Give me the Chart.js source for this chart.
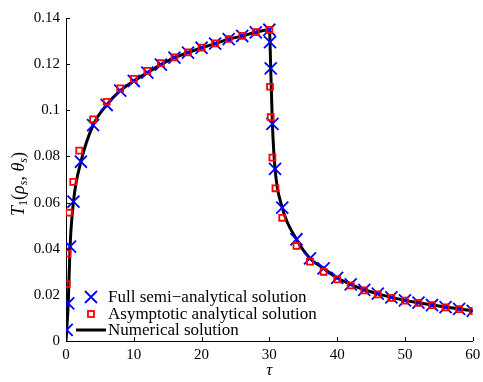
<!DOCTYPE html>
<html>
<head>
<meta charset="utf-8">
<script src="https://cdn.jsdelivr.net/npm/chart.js@4.4.1/dist/chart.umd.min.js"></script>
<style>
html,body{margin:0;padding:0;background:#fff;}
canvas{display:block;}
</style>
</head>
<body>
<canvas id="c" width="483" height="382"></canvas>
<script>
// ---- Data ----
const xTicks = [0, 10, 20, 30, 40, 50, 60];
const yTicks = [0, 0.02, 0.04, 0.06, 0.08, 0.1, 0.12, 0.14];
const yTickLabels = ['0', '0.02', '0.04', '0.06', '0.08', '0.1', '0.12', '0.14'];
const xTickLabels = ['0', '10', '20', '30', '40', '50', '60'];

const seriesNames = ['Full semi\u2212analytical solution', 'Asymptotic analytical solution', 'Numerical solution'];

// Full semi-analytical solution (blue crosses)
const tauFull = [0.1, 0.33, 0.6, 1.1, 2.2, 4, 6, 8, 10, 12, 14, 16, 18, 20, 22, 24, 26, 28, 30,
  30.1, 30.2, 30.45, 30.84, 31.9, 34, 36, 38, 40, 42, 44, 46, 48, 50, 52, 54, 56, 58, 60];
const valFull = [0.0048, 0.0163, 0.0409, 0.0604, 0.0777, 0.0936, 0.1023, 0.1085, 0.1127, 0.1163, 0.1198, 0.1228, 0.1250, 0.1271, 0.1289, 0.1308, 0.1322, 0.1338, 0.1349,
  0.1295, 0.1182, 0.0941, 0.0746, 0.0578, 0.0441, 0.0358, 0.0315, 0.0274, 0.0245, 0.0222, 0.0205, 0.0189, 0.0176, 0.0166, 0.0156, 0.0147, 0.0139, 0.0131];

// Asymptotic analytical solution (red squares)
const tauAsym = [0.1, 0.2, 0.44, 1.07, 1.95, 4, 6, 8, 10, 12, 14, 16, 18, 20, 22, 24, 26, 28, 30,
  30.1, 30.2, 30.45, 30.9, 31.9, 34, 36, 38, 40, 42, 44, 46, 48, 50, 52, 54, 56, 58, 60];
const valAsym = [0.0247, 0.0380, 0.0556, 0.0690, 0.0825, 0.0961, 0.1037, 0.1095, 0.1136, 0.1171, 0.1204, 0.1229, 0.1251, 0.1272, 0.1290, 0.1309, 0.1323, 0.1339, 0.1349,
  0.1102, 0.0970, 0.0795, 0.0662, 0.0534, 0.0412, 0.0344, 0.0300, 0.0267, 0.0241, 0.0219, 0.0202, 0.0187, 0.0175, 0.0165, 0.0155, 0.0146, 0.0138, 0.0131];

// Numerical solution (black line)
const tauNum = [0, 0.1, 0.33, 0.6, 1.1, 2.2, 4, 6, 8, 10, 12, 14, 16, 18, 20, 22, 24, 26, 28, 30,
  30.1, 30.2, 30.45, 30.84, 31.9, 34, 36, 38, 40, 42, 44, 46, 48, 50, 52, 54, 56, 58, 60];
const valNum = [0, 0.0048, 0.0163, 0.0409, 0.0604, 0.0777, 0.0936, 0.1023, 0.1085, 0.1127, 0.1163, 0.1198, 0.1228, 0.1250, 0.1271, 0.1289, 0.1308, 0.1322, 0.1338, 0.1349,
  0.1295, 0.1182, 0.0941, 0.0746, 0.0578, 0.0441, 0.0358, 0.0315, 0.0274, 0.0245, 0.0222, 0.0205, 0.0189, 0.0176, 0.0166, 0.0156, 0.0147, 0.0139, 0.0131];

const zip = (xs, ys) => xs.map((x, i) => ({x: x, y: ys[i]}));

const SERIF = '"Liberation Serif", "Times New Roman", serif';
const BLUE = '#0000ff';
const RED = '#ff0000';

const decorations = {
  id: 'decorations',
  afterDraw(chart) {
    const ctx = chart.ctx;
    const xs = chart.scales.x, ys = chart.scales.y;
    const area = chart.chartArea;
    ctx.save();
    // inward tick marks
    ctx.strokeStyle = '#000';
    ctx.lineWidth = 1;
    ctx.beginPath();
    xTicks.forEach(v => {
      const px = Math.round(xs.getPixelForValue(v)) + 0.5;
      ctx.moveTo(px, area.bottom);
      ctx.lineTo(px, area.bottom - 4);
    });
    yTicks.forEach(v => {
      const py = Math.round(ys.getPixelForValue(v)) + 0.5;
      ctx.moveTo(area.left, py);
      ctx.lineTo(area.left + 4, py);
    });
    ctx.stroke();

    // x-axis title
    ctx.fillStyle = '#000';
    ctx.font = 'italic 17px ' + SERIF;
    ctx.textAlign = 'center';
    ctx.textBaseline = 'alphabetic';
    ctx.fillText('\u03C4', (area.left + area.right) / 2, 375);

    // y-axis title (rotated)
    ctx.save();
    ctx.translate(24, 184);
    ctx.rotate(-Math.PI / 2);
    const parts = [
      {t: 'T', f: 'italic 18px ' + SERIF, dy: 0},
      {t: '1', f: '12px ' + SERIF, dy: 3},
      {t: '(', f: '18px ' + SERIF, dy: 0},
      {t: '\u03C1', f: 'italic 18px ' + SERIF, dy: 0},
      {t: 's', f: 'italic 12px ' + SERIF, dy: 3},
      {t: ', ', f: '18px ' + SERIF, dy: 0},
      {t: '\u03B8', f: 'italic 18px ' + SERIF, dy: 0},
      {t: 's', f: 'italic 12px ' + SERIF, dy: 3},
      {t: ')', f: '18px ' + SERIF, dy: 0}
    ];
    let total = 0;
    parts.forEach(p => { ctx.font = p.f; p.w = ctx.measureText(p.t).width; total += p.w; });
    let cx = -total / 2;
    ctx.textAlign = 'left';
    parts.forEach(p => { ctx.font = p.f; ctx.fillText(p.t, cx, p.dy); cx += p.w; });
    ctx.restore();

    // legend
    const lx = 91, rows = [297, 314, 330];
    ctx.font = '17px ' + SERIF;
    ctx.textAlign = 'left';
    ctx.textBaseline = 'middle';
    // cross
    ctx.strokeStyle = BLUE; ctx.lineWidth = 1.8;
    ctx.beginPath();
    ctx.moveTo(lx - 6, rows[0] - 6); ctx.lineTo(lx + 6, rows[0] + 6);
    ctx.moveTo(lx + 6, rows[0] - 6); ctx.lineTo(lx - 6, rows[0] + 6);
    ctx.stroke();
    // square
    ctx.strokeStyle = RED; ctx.lineWidth = 1.8;
    ctx.strokeRect(lx - 3, rows[1] - 3, 6, 6);
    // line
    ctx.strokeStyle = '#000'; ctx.lineWidth = 3;
    ctx.beginPath(); ctx.moveTo(76, rows[2]); ctx.lineTo(106, rows[2]); ctx.stroke();
    ctx.fillStyle = '#000';
    seriesNames.forEach((n, i) => ctx.fillText(n, 108, rows[i] + 1));
    ctx.restore();
  }
};

new Chart(document.getElementById('c'), {
  type: 'scatter',
  data: {
    datasets: [
      {
        label: seriesNames[0],
        data: zip(tauFull, valFull),
        showLine: false,
        pointStyle: 'crossRot',
        pointRadius: 8.5,
        pointBorderWidth: 1.8,
        pointBorderColor: BLUE,
        pointBackgroundColor: BLUE,
        order: 2
      },
      {
        label: seriesNames[1],
        data: zip(tauAsym, valAsym),
        showLine: false,
        pointStyle: 'rect',
        pointRadius: 4.2,
        pointBorderWidth: 1.8,
        pointBorderColor: RED,
        pointBackgroundColor: 'rgba(0,0,0,0)',
        order: 1
      },
      {
        label: seriesNames[2],
        data: zip(tauNum, valNum),
        showLine: true,
        pointRadius: 0,
        borderColor: '#000',
        borderWidth: 3,
        cubicInterpolationMode: 'monotone',
        fill: false,
        order: 3
      }
    ]
  },
  options: {
    responsive: false,
    animation: false,
    devicePixelRatio: 1,
    layout: {padding: {top: 18, right: 0, left: 0, bottom: 0}},
    plugins: {legend: {display: false}, tooltip: {enabled: false}},
    scales: {
      x: {
        type: 'linear',
        min: 0, max: 60,
        afterBuildTicks: s => { s.ticks = xTicks.map(v => ({value: v})); },
        afterFit: s => { s.height = 41; s.paddingRight = 8; },
        grid: {display: false, drawTicks: false},
        border: {display: true, color: '#000', width: 1},
        ticks: {
          padding: 5,
          color: '#000',
          font: {family: SERIF, size: 15},
          callback: (v) => xTickLabels[xTicks.indexOf(v)]
        }
      },
      y: {
        type: 'linear',
        min: 0, max: 0.14,
        afterBuildTicks: s => { s.ticks = yTicks.map(v => ({value: v})); },
        afterFit: s => { s.width = 66; },
        grid: {display: false, drawTicks: false},
        border: {display: true, color: '#000', width: 1},
        ticks: {
          padding: 6,
          color: '#000',
          font: {family: SERIF, size: 15},
          callback: (v) => { const i = yTicks.findIndex(t => Math.abs(t - v) < 1e-9); return i >= 0 ? yTickLabels[i] : ''; }
        }
      }
    }
  },
  plugins: [decorations]
});
</script>
</body>
</html>
